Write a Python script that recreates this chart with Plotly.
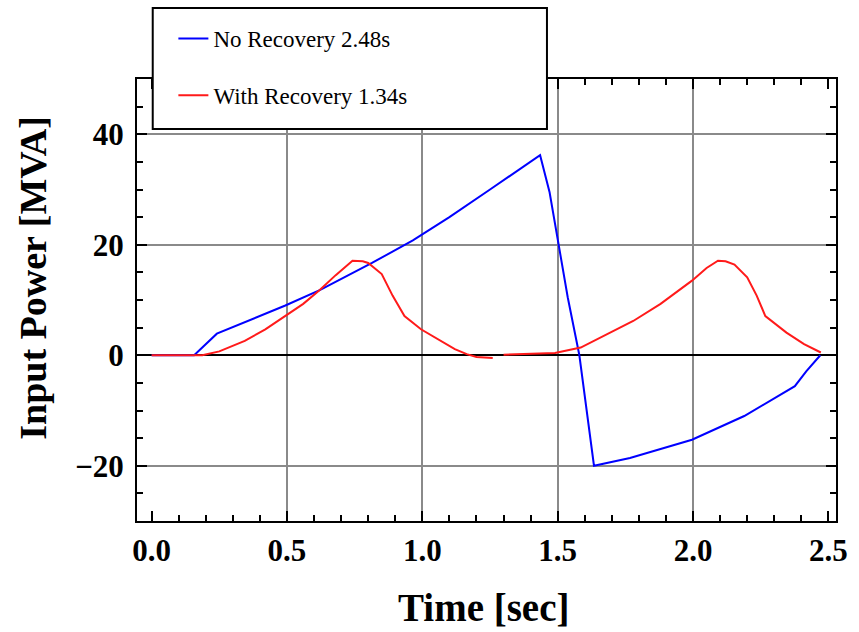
import plotly.graph_objects as go

# ---------------- data ----------------
series_names = ["No Recovery 2.48s", "With Recovery 1.34s"]

t_no_recovery = [0.0, 0.157, 0.241, 0.36, 0.494, 0.621, 0.75, 0.814, 0.965, 1.1, 1.25,
                 1.35, 1.435, 1.47, 1.5, 1.537, 1.58, 1.634, 1.767, 1.996, 2.189, 2.358,
                 2.376, 2.418, 2.47]
p_no_recovery = [0.0, 0.0, 3.9, 6.3, 9.0, 11.8, 15.0, 16.7, 20.8, 25.0, 30.0,
                 33.3, 36.2, 29.5, 20.8, 10.5, 0.0, -20.0, -18.6, -15.3, -11.0, -6.2,
                 -5.6, -2.9, 0.0]

t_with_recovery = [0.0, 0.187, 0.25, 0.344, 0.42, 0.494, 0.56, 0.621, 0.68, 0.742, 0.78,
                   0.80, 0.85, 0.89, 0.934, 0.995, 1.067, 1.12, 1.164, 1.2, 1.26, None,
                   1.30, 1.40, 1.49, 1.585, 1.694, 1.779, 1.88, 1.996, 2.05, 2.092, 2.12,
                   2.153, 2.2, 2.235, 2.267, 2.345, 2.41, 2.472]
p_with_recovery = [0.0, 0.0, 0.7, 2.6, 4.7, 7.1, 9.3, 11.8, 14.5, 17.1, 17.0,
                   16.7, 14.7, 10.8, 7.1, 4.7, 2.6, 1.1, 0.2, -0.3, -0.5, None,
                   0.1, 0.2, 0.4, 1.4, 4.1, 6.2, 9.3, 13.5, 15.8, 17.1, 17.0,
                   16.4, 14.1, 10.8, 7.1, 4.1, 2.0, 0.5]

x_tick_vals = [0.0, 0.5, 1.0, 1.5, 2.0, 2.5]
x_tick_text = ["0.0", "0.5", "1.0", "1.5", "2.0", "2.5"]
x_grid_vals = [0.5, 1.0, 1.5, 2.0]
y_tick_vals = [-20, 0, 20, 40]
y_tick_text = ["\u221220", "0", "20", "40"]

x_range = [-0.054, 2.528]
y_range = [-30, 50]

# ---------------- styling ----------------
W, H = 859, 632
ML, MR, MT, MB = 137, 11, 79, 111
PW, PH = W - ML - MR, H - MT - MB

def px_to_paper_x(px):
    return (px - ML) / PW

def px_to_paper_y(py):
    return (H - MB - py) / PH

SERIF = "Liberation Serif"
BLUE = "#0000ff"
RED = "#ff1a1a"
GRID = "#8a8a8a"

fig = go.Figure()
# anchor trace for the main (tick/label) axes
fig.add_trace(go.Scatter(x=[None], y=[None], xaxis="x", yaxis="y",
                         showlegend=False, hoverinfo="skip"))
fig.add_trace(go.Scatter(x=t_no_recovery, y=p_no_recovery, mode="lines",
                         name=series_names[0], line=dict(color=BLUE, width=2),
                         xaxis="x2", yaxis="y", legendgroup="g1"))
fig.add_trace(go.Scatter(x=t_with_recovery, y=p_with_recovery, mode="lines",
                         name=series_names[1], line=dict(color=RED, width=2),
                         connectgaps=False, xaxis="x2", yaxis="y", legendgroup="g2"))

tick_font = dict(family=SERIF, size=31, color="black", weight="bold")

fig.update_layout(
    width=W, height=H,
    margin=dict(l=ML, r=MR, t=MT, b=MB, pad=0),
    paper_bgcolor="white", plot_bgcolor="white",
    xaxis=dict(
        range=x_range, tickmode="array", tickvals=x_tick_vals, ticktext=x_tick_text,
        ticks="inside", ticklen=10, tickwidth=1.5, tickcolor="black",
        minor=dict(tickmode="linear", tick0=0, dtick=0.1, ticks="inside", ticklen=6,
                   tickwidth=1.5, tickcolor="black", showgrid=False),
        showline=True, linecolor="black", linewidth=2, mirror="ticks",
        showgrid=False, zeroline=False, tickfont=tick_font, ticklabelstandoff=1,
    ),
    xaxis2=dict(
        range=x_range, overlaying="x", tickmode="array", tickvals=x_grid_vals,
        showticklabels=False, ticks="", showline=False, zeroline=False,
        showgrid=True, gridcolor=GRID, gridwidth=1.5,
    ),
    yaxis=dict(
        range=y_range, tickmode="array", tickvals=y_tick_vals, ticktext=y_tick_text,
        ticks="inside", ticklen=10, tickwidth=1.5, tickcolor="black",
        minor=dict(tickmode="linear", tick0=0, dtick=5, ticks="inside", ticklen=6,
                   tickwidth=1.5, tickcolor="black", showgrid=False),
        showline=True, linecolor="black", linewidth=2, mirror="ticks",
        showgrid=True, gridcolor=GRID, gridwidth=1.5,
        zeroline=True, zerolinecolor="black", zerolinewidth=2,
        tickfont=tick_font, ticklabelstandoff=5,
    ),
    showlegend=True,
    legend=dict(
        x=px_to_paper_x(174), y=px_to_paper_y(17), xanchor="left", yanchor="top",
        bgcolor="rgba(0,0,0,0)", borderwidth=0,
        font=dict(family=SERIF, size=23, color="black"),
        traceorder="grouped", tracegroupgap=24, itemwidth=30,
    ),
    shapes=[dict(
        type="rect", xref="paper", yref="paper", layer="above",
        x0=px_to_paper_x(153), x1=px_to_paper_x(554),
        y0=px_to_paper_y(129), y1=px_to_paper_y(8),
        line=dict(color="black", width=2), fillcolor="white",
    )],
    annotations=[
        dict(text="Time [sec]", xref="paper", yref="paper",
             x=px_to_paper_x(489), y=px_to_paper_y(607),
             xanchor="center", yanchor="middle", showarrow=False,
             font=dict(family=SERIF, size=39, color="black", weight="bold")),
        dict(text="Input Power [MVA]", xref="paper", yref="paper", textangle=-90,
             x=px_to_paper_x(31), y=px_to_paper_y(278),
             xanchor="center", yanchor="middle", showarrow=False,
             font=dict(family=SERIF, size=38, color="black", weight="bold")),
    ],
)

fig.write_html("out.html")
